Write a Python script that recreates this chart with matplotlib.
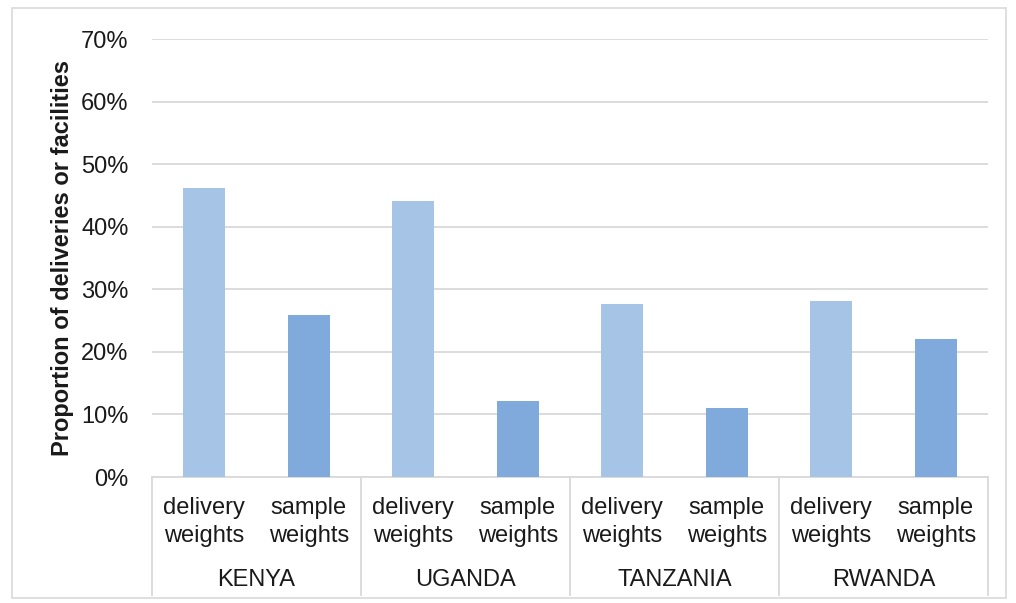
import matplotlib.pyplot as plt
from matplotlib.patches import Rectangle
from matplotlib.ticker import PercentFormatter
import numpy as np

plt.rcParams['font.family'] = ['Liberation Sans', 'DejaVu Sans']

countries = ['KENYA', 'UGANDA', 'TANZANIA', 'RWANDA']
weight_types = ['delivery\nweights', 'sample\nweights']
delivery_vals = [46.2, 44.1, 27.7, 28.2]
sample_vals = [25.9, 12.2, 11.1, 22.0]

light_blue = '#A6C4E6'
dark_blue = '#80AADB'
text_col = '#1A1A1A'

W, H = 1016, 603
fig = plt.figure(figsize=(W / 100, H / 100), dpi=100)
ax = fig.add_axes([152 / W, 1 - 477 / H, (988 - 152) / W, (477 - 39) / H])
ah = 477 - 39  # axes height in px

# -------- bars: two slots per country --------
n = len(countries)
x_del = np.arange(n) * 2
x_smp = np.arange(n) * 2 + 1
ax.bar(x_del, delivery_vals, width=0.4, color=light_blue, zorder=3)
ax.bar(x_smp, sample_vals, width=0.4, color=dark_blue, zorder=3)

ax.set_xlim(-0.5, 2 * n - 0.5)
ax.set_ylim(0, 70)
ax.set_yticks(np.arange(0, 71, 10))
ax.yaxis.set_major_formatter(PercentFormatter(decimals=0))
ax.tick_params(axis='y', length=0, labelsize=17, pad=17, labelcolor=text_col)
ax.grid(axis='y', color='#D9D9D9', linewidth=1.3, zorder=0)
ax.set_xticks([])
for s in ['top', 'right', 'left']:
    ax.spines[s].set_visible(False)
ax.spines['bottom'].set_color('#D9D9D9')
ax.spines['bottom'].set_linewidth(1.3)
ax.set_ylabel('Proportion of deliveries or facilities', fontsize=17,
              fontweight='bold', va='center', color=text_col)
ax.yaxis.set_label_coords(-(152 - 63) / (988 - 152), (477 - 258) / ah)

# -------- multi-level category labels --------
trans = ax.get_xaxis_transform()
for k in range(n + 1):
    ax.plot([2 * k - 0.5, 2 * k - 0.5], [0, -(595 - 477) / ah], transform=trans,
            color='#D9D9D9', linewidth=1.3, clip_on=False)
for i, c in enumerate(countries):
    for j, wt in enumerate(weight_types):
        ax.text(2 * i + j, -(522 - 477) / ah, wt, transform=trans, color=text_col,
                ha='center', va='center', fontsize=17, linespacing=1.32)
    ax.text(2 * i + 0.5, -(580 - 477) / ah, c, transform=trans, color=text_col,
            ha='center', va='center', fontsize=17)

# -------- outer frame --------
fig.patches.append(Rectangle((12 / W, 1 - 598 / H), (1006 - 12) / W,
                             (598 - 8) / H, transform=fig.transFigure,
                             fill=False, edgecolor='#D9D9D9', linewidth=1.2))

fig.savefig('out.png', dpi=100)
